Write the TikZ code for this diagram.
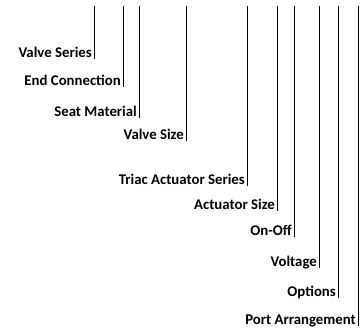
\documentclass[tikz,border=0pt]{standalone}
\usepackage{fontspec}
\setmainfont{Carlito}
\begin{document}
\begin{tikzpicture}[x=1pt,y=-1pt,
  lead/.style={line width=0.9pt,black},
  lbl/.style={anchor=base east,inner sep=0pt,font=\fontsize{14.8}{16}\selectfont\bfseries}]
\useasboundingbox (0,0) rectangle (362,331);
\foreach \n/\x/\y/\t in {
  a/94/59/Valve Series,
  b/123/87/End Connection,
  c/139/118/Seat Material,
  d/186/141/Valve Size,
  e/247/186/Triac Actuator Series,
  f/277/211/Actuator Size,
  g/294/237/On-Off,
  h/319/268/Voltage,
  i/338/298/Options,
  j/358/326/Port Arrangement}{
  \coordinate (\n top) at (\x,6);
  \coordinate (\n bot) at (\x,\y);
  \node[lbl] (\n) at ([xshift=-2pt,yshift=1pt]\n bot) {\t};
  \draw[lead] (\n top) -- (\n bot);
}
\end{tikzpicture}
\end{document}
